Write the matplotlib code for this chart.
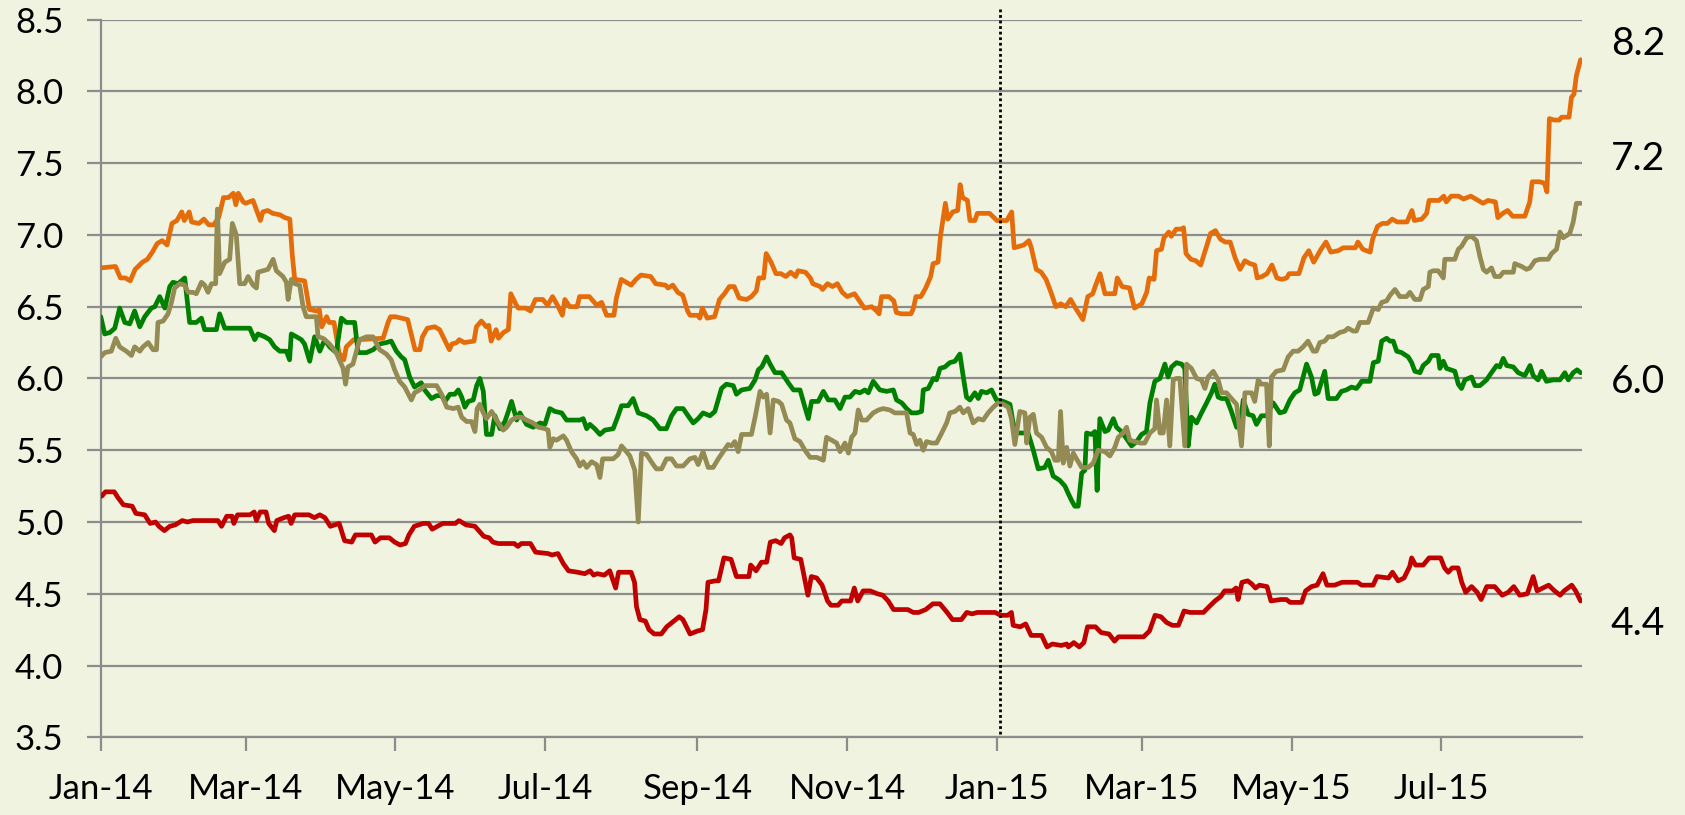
import numpy as np
import pandas as pd
import matplotlib
matplotlib.use("Agg")
import matplotlib.pyplot as plt
from matplotlib.ticker import FormatStrFormatter

plt.rcParams['font.family'] = ['Lato', 'DejaVu Sans']

# days counted from 1 Jan 2014
START = pd.Timestamp('2014-01-01')

orange_days = [0, 6, 8, 10, 12, 14, 17, 19, 21, 23,
               25, 27, 29, 31, 33, 34, 36, 37, 40, 42,
               44, 46, 48, 50, 52, 54, 55, 56, 58, 59,
               62, 65, 66, 68, 70, 73, 75, 77, 78, 79,
               83, 85, 88, 89, 90, 92, 93, 95, 97, 99,
               100, 103, 105, 115, 117, 118, 120, 125, 128, 130,
               131, 133, 136, 138, 140, 142, 143, 145, 146, 148,
               152, 153, 155, 157, 158, 159, 161, 162, 164, 166,
               167, 169, 170, 173, 175, 177, 180, 182, 184, 186,
               188, 189, 191, 194, 195, 199, 202, 204, 206, 209,
               210, 212, 216, 218, 220, 224, 226, 230, 231, 233,
               235, 237, 239, 240, 243, 244, 245, 247, 250, 252,
               254, 256, 258, 260, 263, 265, 267, 268, 270, 271,
               273, 275, 277, 279, 281, 283, 284, 287, 289, 290,
               293, 294, 296, 298, 300, 302, 304, 307, 309, 311,
               314, 316, 317, 318, 321, 323, 324, 326, 330, 331,
               332, 334, 336, 338, 339, 341, 342, 344, 345, 347,
               349, 350, 351, 353, 354, 356, 357, 362, 365, 369,
               371, 372, 376, 378, 379, 381, 383, 385, 387, 389,
               391, 393, 395, 396, 397, 400, 402, 404, 405, 407,
               409, 413, 414, 416, 419, 421, 424, 426, 427, 429,
               430, 432, 433, 435, 436, 438, 440, 441, 442, 444,
               446, 448, 450, 452, 454, 456, 458, 460, 462, 464,
               466, 468, 470, 471, 473, 475, 477, 479, 481, 483,
               484, 488, 490, 492, 494, 497, 499, 501, 504, 506,
               511, 512, 514, 517, 518, 520, 522, 524, 526, 528,
               532, 534, 535, 538, 540, 541, 545, 547, 548, 550,
               553, 555, 558, 560, 563, 565, 568, 569, 571, 573,
               575, 580, 582, 583, 586, 588, 589, 590, 592, 594,
               595, 598, 599, 600, 601, 602.7]
orange_vals = [6.77, 6.78, 6.70, 6.70, 6.68, 6.76, 6.81, 6.83, 6.88, 6.94,
               6.96, 6.93, 7.08, 7.10, 7.16, 7.10, 7.16, 7.09, 7.08, 7.11,
               7.07, 7.07, 7.12, 7.26, 7.26, 7.29, 7.21, 7.29, 7.23, 7.22,
               7.24, 7.10, 7.16, 7.17, 7.15, 7.14, 7.12, 7.11, 6.86, 6.69,
               6.68, 6.48, 6.47, 6.48, 6.36, 6.43, 6.39, 6.39, 6.18, 6.13,
               6.22, 6.27, 6.27, 6.28, 6.39, 6.43, 6.43, 6.41, 6.20, 6.20,
               6.29, 6.35, 6.36, 6.34, 6.27, 6.20, 6.24, 6.25, 6.27, 6.25,
               6.26, 6.36, 6.40, 6.36, 6.37, 6.26, 6.34, 6.28, 6.32, 6.34,
               6.59, 6.52, 6.49, 6.49, 6.47, 6.55, 6.55, 6.51, 6.57, 6.51,
               6.44, 6.55, 6.50, 6.50, 6.57, 6.57, 6.51, 6.53, 6.44, 6.44,
               6.56, 6.69, 6.65, 6.69, 6.72, 6.71, 6.66, 6.65, 6.63, 6.65,
               6.60, 6.58, 6.47, 6.44, 6.44, 6.42, 6.49, 6.42, 6.43, 6.55,
               6.59, 6.64, 6.64, 6.56, 6.55, 6.57, 6.61, 6.70, 6.70, 6.87,
               6.81, 6.73, 6.73, 6.71, 6.74, 6.71, 6.75, 6.74, 6.70, 6.66,
               6.64, 6.62, 6.66, 6.64, 6.66, 6.60, 6.57, 6.59, 6.54, 6.49,
               6.50, 6.47, 6.45, 6.57, 6.57, 6.54, 6.46, 6.45, 6.45, 6.49,
               6.57, 6.57, 6.63, 6.71, 6.80, 6.81, 6.99, 7.22, 7.11, 7.16,
               7.17, 7.35, 7.26, 7.24, 7.10, 7.10, 7.15, 7.15, 7.10, 7.10,
               7.16, 6.91, 6.93, 6.96, 6.91, 6.76, 6.74, 6.69, 6.60, 6.50,
               6.52, 6.50, 6.55, 6.52, 6.49, 6.41, 6.57, 6.59, 6.64, 6.73,
               6.59, 6.59, 6.70, 6.64, 6.63, 6.49, 6.52, 6.60, 6.70, 6.69,
               6.89, 6.90, 6.98, 7.02, 6.99, 7.04, 7.04, 7.05, 6.87, 6.83,
               6.82, 6.79, 6.90, 7.01, 7.03, 6.97, 6.95, 6.95, 6.84, 6.76,
               6.82, 6.80, 6.79, 6.70, 6.71, 6.73, 6.79, 6.70, 6.69, 6.70,
               6.73, 6.73, 6.84, 6.89, 6.81, 6.90, 6.95, 6.88, 6.89, 6.91,
               6.91, 6.95, 6.90, 6.88, 6.97, 7.06, 7.08, 7.08, 7.11, 7.09,
               7.09, 7.17, 7.10, 7.11, 7.15, 7.24, 7.24, 7.27, 7.23, 7.27,
               7.27, 7.25, 7.27, 7.25, 7.22, 7.24, 7.23, 7.12, 7.15, 7.17,
               7.13, 7.13, 7.23, 7.37, 7.37, 7.36, 7.30, 7.81, 7.80, 7.80,
               7.82, 7.82, 7.96, 7.98, 8.11, 8.22]

olive_days = [0, 1.6, 4.3, 6.1, 7.7, 10.4, 12.5, 13.8, 15.9, 17.2,
              19.3, 21.3, 22.7, 23.3, 25.4, 27.4, 28.8, 30.1, 32.2, 34.2,
              35.6, 37.6, 38.9, 41.0, 42.3, 43.7, 45.1, 46.8, 47.5, 48.4,
              50.5, 52.5, 53.6, 55.2, 56.6, 58.6, 60.0, 62.0, 63.4, 64.0,
              66.1, 68.1, 70.2, 71.5, 74.2, 75.6, 76.3, 77.6, 79.0, 81.0,
              82.4, 83.7, 87.8, 88.5, 90.5, 93.2, 95.9, 98.7, 99.7, 100.7,
              102.7, 105.4, 108.2, 110.9, 113.6, 116.3, 118.3, 119.7, 121.7, 123.8,
              126.5, 127.8, 129.9, 132.0, 134.1, 136.8, 138.8, 140.9, 143.6, 145.6,
              147.0, 149.0, 151.0, 152.4, 153.3, 154.4, 155.8, 157.1, 159.2, 161.2,
              163.9, 165.3, 167.3, 169.4, 171.4, 173.4, 176.1, 178.2, 180.9, 182.2,
              182.9, 184.3, 185.6, 188.4, 189.7, 191.7, 193.8, 195.1, 196.5, 197.9,
              199.9, 201.9, 203.3, 204.4, 206.0, 208.7, 210.7, 212.1, 214.1, 215.5,
              217.5, 218.9, 220.2, 222.3, 225.0, 226.3, 228.4, 230.4, 232.5, 234.5,
              237.2, 239.9, 242.0, 243.3, 245.3, 247.4, 249.4, 251.5, 253.5, 255.5,
              256.9, 258.2, 259.6, 261.0, 265.0, 266.5, 268.5, 269.8, 271.2, 272.6,
              273.9, 276.0, 277.3, 279.3, 280.7, 282.7, 284.8, 286.8, 288.9, 291.6,
              294.3, 295.6, 297.7, 299.7, 301.1, 303.1, 304.5, 305.8, 307.2, 308.5,
              309.9, 311.9, 314.6, 316.7, 318.7, 321.4, 323.4, 328.2, 329.6, 330.9,
              332.3, 333.6, 335.0, 336.3, 338.4, 340.4, 342.5, 344.5, 345.8, 347.9,
              349.9, 351.3, 353.3, 355.3, 357.4, 359.4, 361.4, 363.5, 365.5, 367.6,
              369.6, 370.9, 372.3, 374.3, 376.4, 377.1, 378.4, 379.8, 381.1, 383.2,
              385.2, 387.2, 388.6, 390.0, 390.9, 392.0, 393.4, 394.7, 396.1, 397.4,
              399.5, 402.2, 404.2, 406.2, 409.0, 411.0, 413.0, 414.4, 416.4, 417.8,
              419.1, 421.2, 423.2, 425.2, 427.3, 429.3, 430.0, 431.4, 432.7, 434.1,
              435.4, 436.8, 438.1, 439.5, 441.5, 442.2, 444.2, 446.3, 448.3, 449.7,
              451.0, 453.1, 455.1, 456.5, 458.5, 460.5, 462.6, 464.6, 466.0, 468.7,
              470.0, 471.4, 472.7, 474.8, 475.9, 476.8, 478.8, 481.6, 483.6, 485.6,
              487.7, 489.7, 491.7, 493.8, 495.1, 496.5, 498.5, 499.9, 501.9, 504.6,
              506.7, 508.0, 510.1, 511.4, 512.8, 516.2, 518.3, 520.3, 521.7, 523.7,
              525.1, 527.1, 529.1, 531.8, 533.2, 535.2, 537.3, 538.6, 540.7, 541.3,
              542.7, 544.7, 546.8, 547.4, 551.5, 552.9, 554.2, 556.3, 558.3, 560.3,
              561.7, 563.1, 564.4, 566.4, 567.8, 569.8, 571.2, 575.3, 575.9, 578.7,
              580.7, 582.1, 584.1, 586.1, 589.5, 590.9, 592.9, 594.3, 595.6, 598.3,
              599.7, 601.0, 602.7]
olive_vals = [6.15, 6.18, 6.19, 6.28, 6.22, 6.19, 6.16, 6.22, 6.19, 6.22,
              6.25, 6.20, 6.20, 6.39, 6.40, 6.45, 6.53, 6.63, 6.66, 6.65,
              6.60, 6.60, 6.59, 6.67, 6.65, 6.60, 6.66, 6.66, 7.18, 6.73,
              6.81, 6.83, 7.08, 7.00, 6.66, 6.66, 6.71, 6.65, 6.63, 6.74,
              6.75, 6.76, 6.83, 6.75, 6.71, 6.67, 6.55, 6.69, 6.66, 6.65,
              6.50, 6.43, 6.43, 6.29, 6.28, 6.24, 6.18, 6.07, 5.96, 6.08,
              6.10, 6.27, 6.29, 6.29, 6.20, 6.17, 6.13, 6.06, 5.98, 5.94,
              5.85, 5.90, 5.92, 5.95, 5.95, 5.95, 5.89, 5.80, 5.79, 5.80,
              5.73, 5.70, 5.70, 5.63, 5.79, 5.82, 5.76, 5.72, 5.77, 5.71,
              5.64, 5.66, 5.71, 5.73, 5.73, 5.71, 5.69, 5.66, 5.65, 5.64,
              5.52, 5.58, 5.57, 5.60, 5.57, 5.49, 5.44, 5.39, 5.42, 5.38,
              5.42, 5.40, 5.31, 5.44, 5.44, 5.44, 5.47, 5.53, 5.49, 5.46,
              5.36, 5.00, 5.48, 5.47, 5.40, 5.37, 5.37, 5.44, 5.44, 5.39,
              5.39, 5.44, 5.45, 5.40, 5.49, 5.38, 5.38, 5.44, 5.49, 5.54,
              5.53, 5.56, 5.49, 5.61, 5.61, 5.73, 5.91, 5.87, 5.89, 5.62,
              5.85, 5.84, 5.82, 5.71, 5.69, 5.58, 5.56, 5.50, 5.45, 5.45,
              5.43, 5.59, 5.57, 5.55, 5.49, 5.55, 5.48, 5.59, 5.62, 5.78,
              5.71, 5.71, 5.76, 5.78, 5.79, 5.78, 5.76, 5.76, 5.62, 5.61,
              5.54, 5.57, 5.50, 5.56, 5.55, 5.55, 5.62, 5.69, 5.76, 5.77,
              5.80, 5.76, 5.79, 5.69, 5.72, 5.71, 5.76, 5.80, 5.83, 5.82,
              5.80, 5.72, 5.54, 5.77, 5.76, 5.55, 5.73, 5.75, 5.62, 5.59,
              5.52, 5.49, 5.43, 5.43, 5.77, 5.41, 5.52, 5.39, 5.48, 5.44,
              5.38, 5.38, 5.41, 5.50, 5.49, 5.46, 5.52, 5.59, 5.62, 5.66,
              5.57, 5.56, 5.55, 5.55, 5.62, 5.65, 5.85, 5.62, 5.62, 5.85,
              5.53, 5.99, 6.00, 6.00, 5.53, 6.10, 6.07, 6.00, 5.99, 5.93,
              6.01, 6.05, 5.99, 5.90, 5.90, 5.86, 5.82, 5.53, 5.90, 5.90,
              5.84, 5.99, 5.96, 5.96, 5.53, 6.01, 6.05, 6.06, 6.15, 6.19,
              6.19, 6.22, 6.26, 6.19, 6.19, 6.25, 6.26, 6.29, 6.29, 6.32,
              6.33, 6.35, 6.33, 6.33, 6.39, 6.39, 6.49, 6.48, 6.53, 6.54,
              6.58, 6.62, 6.57, 6.57, 6.60, 6.55, 6.55, 6.62, 6.64, 6.74,
              6.75, 6.75, 6.70, 6.83, 6.83, 6.90, 6.92, 6.98, 6.99, 6.96,
              6.85, 6.76, 6.74, 6.77, 6.71, 6.71, 6.74, 6.74, 6.80, 6.78,
              6.76, 6.77, 6.82, 6.83, 6.83, 6.87, 6.90, 7.02, 6.98, 7.01,
              7.09, 7.22, 7.22]

green_days = [0, 1.6, 3.7, 5.7, 7.7, 9.8, 11.8, 13.8, 15.9, 17.9,
              20.6, 22.0, 24.0, 26.1, 28.1, 29.4, 31.5, 34.2, 36.2, 38.9,
              41.0, 42.3, 47.1, 48.4, 50.5, 60.7, 62.7, 64.0, 66.8, 68.8,
              70.8, 72.9, 75.6, 76.9, 77.6, 79.7, 81.7, 83.0, 85.1, 87.1,
              89.2, 91.2, 93.2, 95.9, 98.0, 100.0, 103.4, 104.8, 108.2, 110.9,
              113.6, 116.3, 118.3, 120.4, 122.4, 123.8, 125.8, 127.8, 130.5, 131.9,
              134.7, 136.8, 138.8, 140.2, 142.2, 144.2, 145.6, 147.0, 148.3, 149.7,
              151.7, 153.1, 154.4, 155.8, 157.1, 159.2, 160.5, 162.6, 164.6, 166.0,
              167.3, 169.4, 170.7, 173.4, 176.1, 178.9, 180.9, 182.9, 185.0, 187.7,
              189.7, 195.1, 196.5, 197.9, 199.2, 201.2, 203.3, 205.3, 208.7, 210.7,
              212.1, 214.8, 216.8, 218.9, 222.3, 225.0, 227.7, 230.4, 232.5, 234.5,
              237.2, 239.2, 241.3, 243.3, 245.3, 248.1, 250.1, 252.8, 254.8, 257.6,
              258.9, 261.0, 264.3, 266.5, 267.8, 269.2, 271.2, 272.6, 274.6, 277.3,
              280.0, 282.1, 284.8, 286.8, 288.2, 289.5, 292.2, 294.3, 296.3, 299.0,
              301.1, 303.1, 305.1, 307.2, 309.2, 311.2, 312.6, 314.6, 317.3, 320.1,
              322.8, 324.1, 326.2, 328.2, 330.2, 332.3, 334.3, 335.0, 337.0, 339.1,
              340.4, 341.8, 343.8, 345.8, 347.9, 349.9, 351.3, 352.6, 354.0, 356.0,
              357.4, 358.7, 360.8, 362.8, 364.8, 367.6, 370.3, 371.6, 373.0, 377.7,
              379.8, 381.8, 384.5, 385.9, 387.9, 390.6, 392.7, 394.0, 395.4, 396.7,
              398.1, 399.5, 400.8, 401.5, 403.5, 404.9, 405.8, 406.9, 409.0, 410.3,
              412.4, 413.7, 415.7, 417.8, 419.8, 421.9, 423.9, 425.9, 427.3, 429.3,
              431.4, 433.4, 434.7, 436.1, 438.1, 440.2, 441.5, 442.9, 444.2, 446.3,
              448.3, 450.4, 452.4, 453.7, 455.1, 456.5, 458.5, 460.5, 462.6, 463.9,
              465.3, 467.3, 469.3, 470.7, 472.7, 474.8, 477.5, 480.2, 482.2, 484.3,
              486.3, 488.3, 491.1, 493.1, 494.5, 495.8, 498.5, 499.9, 503.3, 505.3,
              507.3, 509.4, 511.4, 512.8, 513.5, 516.9, 518.3, 520.3, 521.7, 523.7,
              525.1, 526.4, 527.8, 529.8, 532.5, 533.9, 535.2, 537.3, 538.6, 540.7,
              542.0, 544.7, 545.4, 546.8, 548.1, 551.5, 552.9, 554.2, 555.6, 558.3,
              559.7, 561.7, 564.4, 566.4, 568.5, 569.8, 571.2, 572.6, 575.3, 577.3,
              580.0, 582.1, 583.4, 585.4, 586.8, 588.8, 591.5, 594.3, 596.3, 597.7,
              599.7, 601.3, 602.7]
green_vals = [6.43, 6.31, 6.32, 6.35, 6.49, 6.39, 6.38, 6.47, 6.36, 6.43,
              6.49, 6.50, 6.57, 6.49, 6.64, 6.67, 6.66, 6.70, 6.39, 6.39,
              6.42, 6.34, 6.34, 6.45, 6.35, 6.35, 6.27, 6.31, 6.29, 6.27,
              6.22, 6.19, 6.19, 6.13, 6.31, 6.29, 6.27, 6.24, 6.12, 6.29,
              6.19, 6.27, 6.22, 6.18, 6.42, 6.39, 6.39, 6.18, 6.18, 6.20,
              6.24, 6.25, 6.26, 6.19, 6.15, 6.13, 6.01, 5.94, 5.97, 5.92,
              5.86, 5.88, 5.88, 5.84, 5.89, 5.89, 5.92, 5.87, 5.80, 5.84,
              5.85, 5.95, 6.00, 5.91, 5.61, 5.61, 5.74, 5.65, 5.70, 5.77,
              5.84, 5.71, 5.76, 5.68, 5.66, 5.69, 5.68, 5.79, 5.77, 5.76,
              5.71, 5.71, 5.72, 5.65, 5.68, 5.65, 5.61, 5.64, 5.65, 5.74,
              5.81, 5.81, 5.86, 5.76, 5.74, 5.71, 5.65, 5.65, 5.74, 5.79,
              5.79, 5.74, 5.69, 5.72, 5.76, 5.74, 5.77, 5.93, 5.96, 5.95,
              5.89, 5.92, 5.93, 5.99, 6.06, 6.08, 6.15, 6.10, 6.04, 6.04,
              5.97, 5.92, 5.92, 5.80, 5.72, 5.84, 5.84, 5.91, 5.85, 5.85,
              5.79, 5.87, 5.87, 5.91, 5.90, 5.92, 5.90, 5.98, 5.92, 5.91,
              5.92, 5.85, 5.83, 5.79, 5.76, 5.76, 5.77, 5.92, 5.93, 6.00,
              5.99, 6.07, 6.08, 6.11, 6.12, 6.17, 6.01, 5.87, 5.85, 5.90,
              5.86, 5.91, 5.90, 5.92, 5.85, 5.84, 5.82, 5.69, 5.62, 5.62,
              5.50, 5.37, 5.38, 5.43, 5.32, 5.29, 5.25, 5.20, 5.15, 5.11,
              5.11, 5.34, 5.36, 5.62, 5.61, 5.63, 5.22, 5.72, 5.63, 5.64,
              5.72, 5.66, 5.63, 5.58, 5.53, 5.56, 5.61, 5.63, 5.83, 5.98,
              6.00, 6.10, 6.01, 6.08, 6.11, 6.10, 6.07, 5.53, 5.73, 5.69,
              5.76, 5.83, 5.90, 5.96, 5.87, 5.86, 5.86, 5.77, 5.66, 5.66,
              5.85, 5.75, 5.74, 5.68, 5.74, 5.74, 5.83, 5.76, 5.77, 5.85,
              5.90, 5.92, 6.10, 6.01, 5.89, 5.90, 6.05, 5.86, 5.86, 5.91,
              5.92, 5.94, 5.93, 5.96, 5.98, 5.98, 6.11, 6.12, 6.26, 6.28,
              6.26, 6.26, 6.19, 6.18, 6.15, 6.11, 6.05, 6.04, 6.09, 6.12,
              6.16, 6.16, 6.07, 6.12, 6.07, 6.05, 5.96, 5.93, 5.99, 6.01,
              5.95, 5.95, 5.99, 6.04, 6.09, 6.08, 6.14, 6.09, 6.08, 6.04,
              6.02, 6.09, 6.02, 5.99, 6.05, 5.98, 5.99, 5.99, 6.04, 5.99,
              6.04, 6.06, 6.04]

red_days = [0.4, 1.9, 5.5, 7.0, 9.2, 12.8, 14.3, 17.9, 20.1, 22.3,
            23.7, 25.9, 28.1, 30.3, 33.2, 35.3, 37.5, 47.7, 49.2, 51.3,
            53.5, 54.2, 55.7, 60.8, 62.5, 63.4, 64.9, 67.3, 68.4, 70.7,
            71.7, 74.6, 76.5, 77.5, 79.0, 84.8, 87.0, 89.2, 91.3, 93.5,
            97.1, 99.3, 102.2, 103.7, 110.2, 111.7, 113.9, 117.5, 119.7, 121.9,
            124.1, 125.5, 127.7, 131.3, 133.5, 135.0, 137.1, 139.3, 144.4, 145.9,
            148.8, 152.4, 156.0, 158.2, 159.7, 161.9, 168.4, 169.9, 171.3, 175.0,
            177.1, 182.2, 183.7, 186.2, 188.4, 190.5, 194.2, 197.1, 199.3, 200.7,
            202.2, 205.1, 207.3, 209.7, 210.9, 216.0, 217.4, 218.2, 219.6, 221.8,
            223.3, 225.4, 228.3, 230.5, 233.4, 235.6, 237.1, 240.0, 242.9, 245.1,
            246.5, 247.3, 250.2, 251.6, 253.8, 256.7, 258.9, 264.0, 264.7, 266.9,
            269.1, 271.2, 272.7, 274.9, 277.1, 278.5, 280.7, 281.4, 282.4, 285.1,
            288.0, 289.4, 291.6, 293.8, 296.0, 297.4, 300.3, 301.8, 305.4, 306.9,
            308.3, 310.5, 313.4, 316.3, 318.5, 320.7, 322.9, 328.7, 330.9, 333.1,
            336.0, 338.9, 341.8, 344.7, 346.9, 350.5, 352.7, 354.9, 357.0, 364.3,
            366.5, 369.4, 370.9, 371.6, 374.5, 376.7, 378.9, 383.2, 385.4, 387.6,
            391.2, 393.4, 394.1, 396.3, 398.5, 400.4, 401.9, 405.1, 407.4, 410.6,
            412.9, 414.5, 424.7, 427.1, 429.4, 431.8, 434.1, 436.5, 438.9, 441.2,
            443.6, 449.1, 451.4, 453.8, 456.1, 457.7, 460.9, 462.4, 463.2, 464.8,
            467.1, 468.7, 470.3, 471.9, 475.0, 476.6, 480.5, 482.9, 484.4, 489.1,
            490.7, 493.1, 495.4, 497.8, 499.4, 502.5, 505.6, 511.9, 513.5, 518.2,
            519.8, 524.5, 526.1, 528.4, 530.8, 533.1, 533.9, 535.5, 538.6, 541.0,
            545.7, 547.3, 548.8, 550.4, 552.8, 554.3, 555.9, 558.3, 560.6, 562.2,
            564.5, 567.7, 570.8, 573.2, 575.5, 577.9, 581.0, 583.4, 585.0, 587.3,
            589.7, 592.1, 594.4, 596.0, 599.1, 600.7, 602.7]
red_vals = [5.18, 5.21, 5.21, 5.17, 5.12, 5.11, 5.06, 5.05, 4.99, 5.00,
            4.97, 4.94, 4.97, 4.98, 5.01, 5.00, 5.01, 5.01, 4.97, 5.04,
            5.04, 4.99, 5.05, 5.05, 5.07, 5.01, 5.07, 5.07, 4.99, 4.94,
            5.01, 5.03, 5.04, 4.99, 5.05, 5.05, 5.03, 5.05, 5.03, 4.97,
            4.99, 4.87, 4.86, 4.91, 4.91, 4.86, 4.89, 4.89, 4.86, 4.84,
            4.85, 4.91, 4.97, 4.99, 4.99, 4.95, 4.97, 4.99, 4.99, 5.01,
            4.98, 4.97, 4.90, 4.89, 4.86, 4.85, 4.85, 4.83, 4.85, 4.85,
            4.79, 4.78, 4.77, 4.78, 4.71, 4.66, 4.65, 4.64, 4.66, 4.63,
            4.64, 4.63, 4.66, 4.54, 4.65, 4.65, 4.58, 4.41, 4.32, 4.31,
            4.25, 4.22, 4.22, 4.27, 4.31, 4.34, 4.32, 4.22, 4.24, 4.25,
            4.39, 4.58, 4.59, 4.59, 4.75, 4.74, 4.62, 4.62, 4.70, 4.66,
            4.72, 4.72, 4.86, 4.87, 4.85, 4.89, 4.91, 4.89, 4.75, 4.74,
            4.49, 4.62, 4.61, 4.56, 4.45, 4.42, 4.42, 4.45, 4.45, 4.54,
            4.45, 4.52, 4.52, 4.50, 4.49, 4.45, 4.39, 4.39, 4.37, 4.37,
            4.39, 4.43, 4.43, 4.37, 4.32, 4.32, 4.37, 4.36, 4.37, 4.37,
            4.35, 4.35, 4.37, 4.28, 4.27, 4.29, 4.21, 4.21, 4.13, 4.15,
            4.14, 4.15, 4.13, 4.16, 4.13, 4.16, 4.27, 4.27, 4.23, 4.22,
            4.17, 4.20, 4.20, 4.24, 4.35, 4.34, 4.30, 4.28, 4.28, 4.38,
            4.37, 4.37, 4.41, 4.45, 4.48, 4.52, 4.52, 4.54, 4.46, 4.58,
            4.59, 4.57, 4.54, 4.56, 4.55, 4.45, 4.46, 4.46, 4.44, 4.44,
            4.52, 4.55, 4.56, 4.64, 4.56, 4.56, 4.58, 4.58, 4.56, 4.56,
            4.62, 4.61, 4.65, 4.59, 4.61, 4.69, 4.75, 4.70, 4.70, 4.75,
            4.75, 4.68, 4.65, 4.68, 4.68, 4.58, 4.51, 4.55, 4.51, 4.46,
            4.55, 4.55, 4.49, 4.51, 4.55, 4.49, 4.50, 4.62, 4.52, 4.54,
            4.56, 4.52, 4.49, 4.52, 4.56, 4.52, 4.45]

end_labels = ['8.2', '7.2', '6.0', '4.4']
break_day = 366.4  # dotted marker at the turn of the year

BG = '#F0F3DF'
GRID = '#8C8C8C'


def to_dates(days):
    return START + pd.to_timedelta(np.asarray(days, dtype=float), unit='D')


fig = plt.figure(figsize=(16.85, 8.15), dpi=100, facecolor=BG)
ax = fig.add_axes([0.0598, 0.0953, 0.8791, 0.8807])
ax.set_facecolor(BG)

series = [
    (red_days, red_vals, '#C00000'),
    (orange_days, orange_vals, '#E46C0A'),
    (green_days, green_vals, '#008000'),
    (olive_days, olive_vals, '#948A54'),
]
for days, vals, colour in series:
    ax.plot(to_dates(days), vals, color=colour, lw=3.4,
            solid_joinstyle='round', solid_capstyle='round', zorder=3)

ax.plot(to_dates([break_day, break_day]), [3.52, 8.59], color='black', lw=2.0,
        linestyle=(0, (1, 1)), clip_on=False, zorder=5)

ax.set_ylim(3.5, 8.5)
ax.set_yticks(np.arange(3.5, 8.51, 0.5))
ax.yaxis.set_major_formatter(FormatStrFormatter('%.1f'))

ax.set_xlim(START, START + pd.Timedelta(days=603.3))
ticks = pd.date_range('2014-01-01', '2015-07-01', freq='2MS')
ax.set_xticks(ticks)
ax.set_xticklabels([t.strftime('%b-%y') for t in ticks])

ax.grid(axis='y', color=GRID, lw=1.6)
ax.set_axisbelow(True)
for side in ['top', 'right']:
    ax.spines[side].set_visible(False)
for side in ['left', 'bottom']:
    ax.spines[side].set_color(GRID)
    ax.spines[side].set_linewidth(1.6)
ax.tick_params(axis='both', direction='out', length=10, width=1.6,
               color=GRID, labelsize=25, labelcolor='black')
ax.tick_params(axis='y', pad=17)
ax.tick_params(axis='x', pad=16)

label_y = [8.33, 7.53, 5.975, 4.29]
for text, y in zip(end_labels, label_y):
    ax.text(START + pd.Timedelta(days=626), y, text, fontsize=28,
            ha='center', va='center', clip_on=False)

fig.savefig('out.png', dpi=100, facecolor=BG)
